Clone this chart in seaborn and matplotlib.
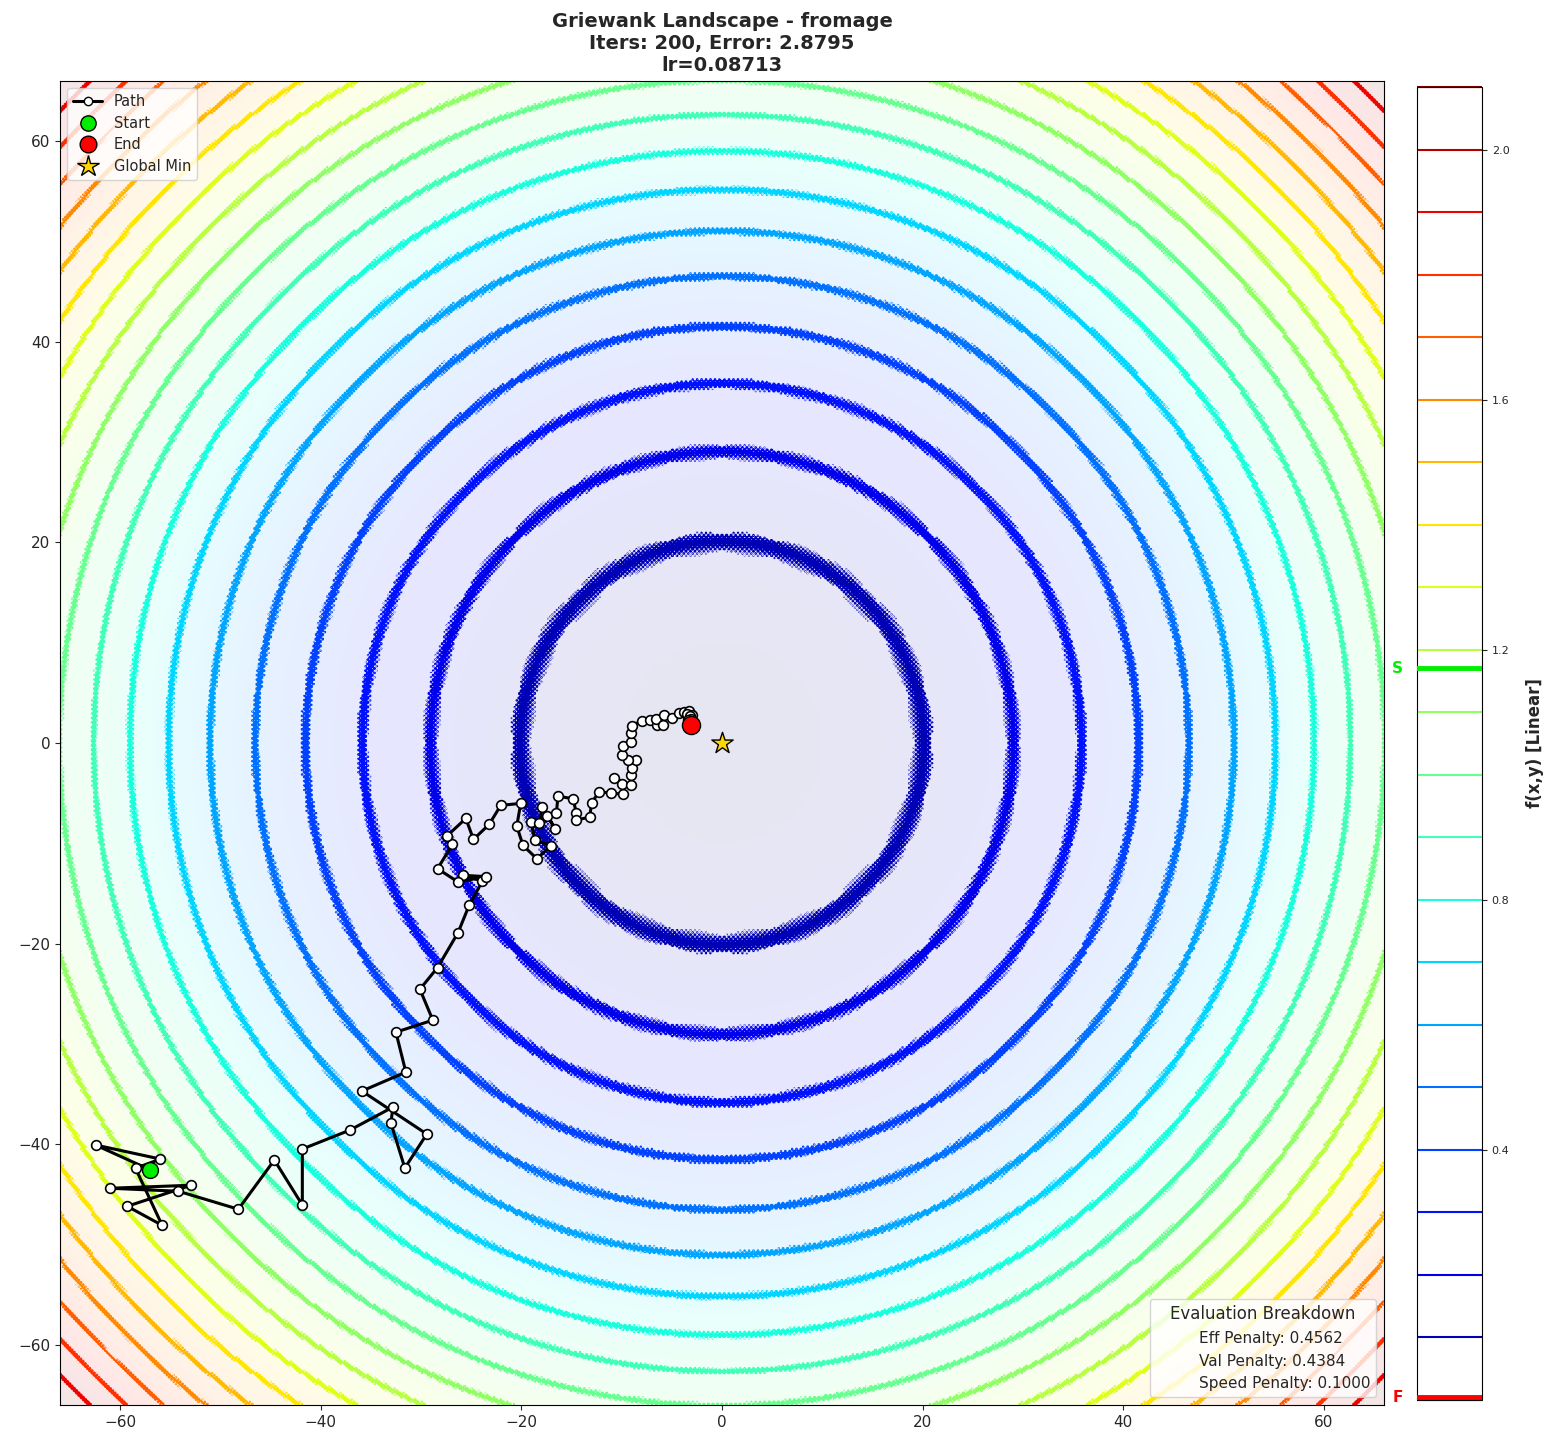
import numpy as np
import matplotlib
matplotlib.use("Agg")
import matplotlib.pyplot as plt
import matplotlib.transforms as mtransforms
from matplotlib.lines import Line2D
import seaborn as sns

# ---------------- data ----------------
path_x = [-56.98, -62.46, -55.99, -58.47, -55.82, -59.30, -52.93, -60.99, -54.19, -48.22,
          -44.63, -41.84, -41.84, -37.09, -32.81, -33.01, -31.62, -29.43, -35.90, -31.52,
          -32.51, -28.83, -30.12, -28.36, -26.31, -25.21, -23.88, -25.87, -23.55, -26.31,
          -28.36, -26.87, -27.43, -25.54, -24.78, -23.22, -22.06, -20.07, -20.46, -19.84,
          -18.47, -17.01, -18.64, -19.07, -18.24, -17.90, -16.65, -17.41, -16.51, -16.35,
          -14.86, -14.52, -14.59, -13.19, -13.00, -12.27, -11.10, -9.84, -9.94, -10.77,
          -9.11, -9.11, -8.94, -8.61, -9.34, -9.94, -9.84, -9.11, -9.04, -9.01,
          -8.02, -7.22, -6.52, -6.59, -5.86, -5.80, -4.96, -4.30, -3.80, -3.31,
          -2.97, -3.53, -3.24, -3.14, -3.34, -3.14]
path_y = [-42.57, -40.08, -41.48, -42.40, -48.08, -46.19, -44.09, -44.39, -44.69, -46.48,
          -41.58, -46.06, -40.48, -38.59, -36.30, -37.89, -42.37, -38.99, -34.70, -32.81,
          -28.83, -27.63, -24.55, -22.39, -18.90, -16.18, -13.76, -13.19, -13.32, -13.86,
          -12.53, -10.11, -9.28, -7.52, -9.61, -8.12, -6.22, -6.02, -8.29, -10.21,
          -11.53, -10.24, -9.68, -7.85, -7.95, -6.35, -8.54, -7.29, -6.95, -5.30,
          -5.56, -6.95, -7.69, -7.39, -5.95, -4.90, -4.96, -5.13, -4.13, -3.47,
          -4.23, -3.24, -2.47, -1.71, -1.71, -1.15, -0.32, 0.08, 1.02, 1.67,
          2.24, 2.34, 1.77, 2.41, 1.84, 2.84, 2.51, 3.01, 3.07, 3.17,
          2.84, 2.94, 2.74, 2.44, 2.34, 1.84]
global_min = (0.0, 0.0)
start_value = 1.17
end_value = 0.004
contour_levels = [0.0, 0.1, 0.2, 0.3, 0.4, 0.5, 0.6, 0.7, 0.8, 0.9, 1.0,
                  1.1, 1.2, 1.3, 1.4, 1.5, 1.6, 1.7, 1.8, 1.9, 2.0, 2.1]
cbar_ticks = [0.4, 0.8, 1.2, 1.6, 2.0]
title_text = "Griewank Landscape - fromage\nIters: 200, Error: 2.8795\nlr=0.08713"
legend_labels = ["Path", "Start", "End", "Global Min"]
breakdown_title = "Evaluation Breakdown"
breakdown_labels = ["Eff Penalty: 0.4562", "Val Penalty: 0.4384", "Speed Penalty: 0.1000"]
cbar_label = "f(x,y) [Linear]"
domain = 66.0

# ---------------- figure ----------------
sns.set_style("ticks")
plt.rcParams['font.family'] = ['DejaVu Sans']

fig = plt.figure(figsize=(15.52, 14.48), dpi=100)
ax = fig.add_axes([60 / 1552, 43 / 1448, 1324 / 1552, 1324 / 1448])
cax = fig.add_axes([1417 / 1552, 48 / 1448, 65 / 1552, 1313 / 1448])

g = np.linspace(-domain, domain, 1200)
X, Y = np.meshgrid(g, g)
bowl = (X ** 2 + Y ** 2) / 4400.0 + 0.008
ripple = -0.012 * np.cos(2 * np.pi * X / 0.45) * np.cos(2 * np.pi * Y / 0.45)
Z = bowl + ripple * np.clip((bowl - 0.008) / 0.05, 0, 1)

ax.imshow(bowl, extent=(-domain, domain, -domain, domain), origin='lower',
          cmap='jet', alpha=0.1, vmin=0, vmax=bowl.max(), interpolation='bilinear',
          aspect='auto', zorder=0)
cs = ax.contour(X, Y, Z, levels=contour_levels, cmap='jet', linewidths=1.5, zorder=1)

sns.lineplot(x=path_x, y=path_y, sort=False, estimator=None, ax=ax, color='black',
             linewidth=2.2, marker='o', markersize=7, markerfacecolor='white',
             markeredgecolor='black', markeredgewidth=1.2, zorder=5)
ax.scatter([path_x[0]], [path_y[0]], s=130, color='#00ee00', edgecolor='black',
           linewidth=1.0, zorder=7)
ax.scatter([path_x[-1]], [path_y[-1]], s=170, color='red', edgecolor='black',
           linewidth=1.0, zorder=7)
ax.scatter([global_min[0]], [global_min[1]], s=260, marker='*', color='gold',
           edgecolor='black', linewidth=1.0, zorder=7)

ax.set_xlim(-domain, domain)
ax.set_ylim(-domain, domain)
ax.tick_params(labelsize=11)
ax.set_title(title_text, fontsize=14, fontweight='bold', pad=7)
for s in ax.spines.values():
    s.set_color('black')

handles = [
    Line2D([0], [0], color='black', lw=2.2, marker='o', markersize=6,
           markerfacecolor='white', markeredgecolor='black'),
    Line2D([0], [0], ls='', marker='o', markersize=11, markerfacecolor='#00ee00',
           markeredgecolor='black'),
    Line2D([0], [0], ls='', marker='o', markersize=12, markerfacecolor='red',
           markeredgecolor='black'),
    Line2D([0], [0], ls='', marker='*', markersize=16, markerfacecolor='gold',
           markeredgecolor='black'),
]
leg1 = ax.legend(handles, legend_labels, loc='upper left', fontsize=10.5,
                 labelspacing=0.45, frameon=True)
ax.add_artist(leg1)
blank = [Line2D([], [], alpha=0) for _ in breakdown_labels]
ax.legend(blank, breakdown_labels, loc='lower right', title=breakdown_title,
          fontsize=11, title_fontsize=12, frameon=True)

cb = fig.colorbar(cs, cax=cax)
cb.set_ticks(cbar_ticks)
cb.ax.tick_params(labelsize=8)
cb.set_label(cbar_label, fontsize=12, fontweight='bold', labelpad=12)
cb.outline.set_edgecolor('black')

cax.axhline(start_value, color='#00ee00', lw=3.5, zorder=5)
cax.axhline(end_value, color='red', lw=3.5, zorder=5)
trans = mtransforms.blended_transform_factory(cax.transAxes, cax.transData)
cax.text(-0.22, start_value, 'S', transform=trans, color='#00ee00', fontsize=11,
         fontweight='bold', ha='right', va='center')
cax.text(-0.22, end_value, 'F', transform=trans, color='red', fontsize=11,
         fontweight='bold', ha='right', va='center')

fig.savefig('out.png', dpi=100)
